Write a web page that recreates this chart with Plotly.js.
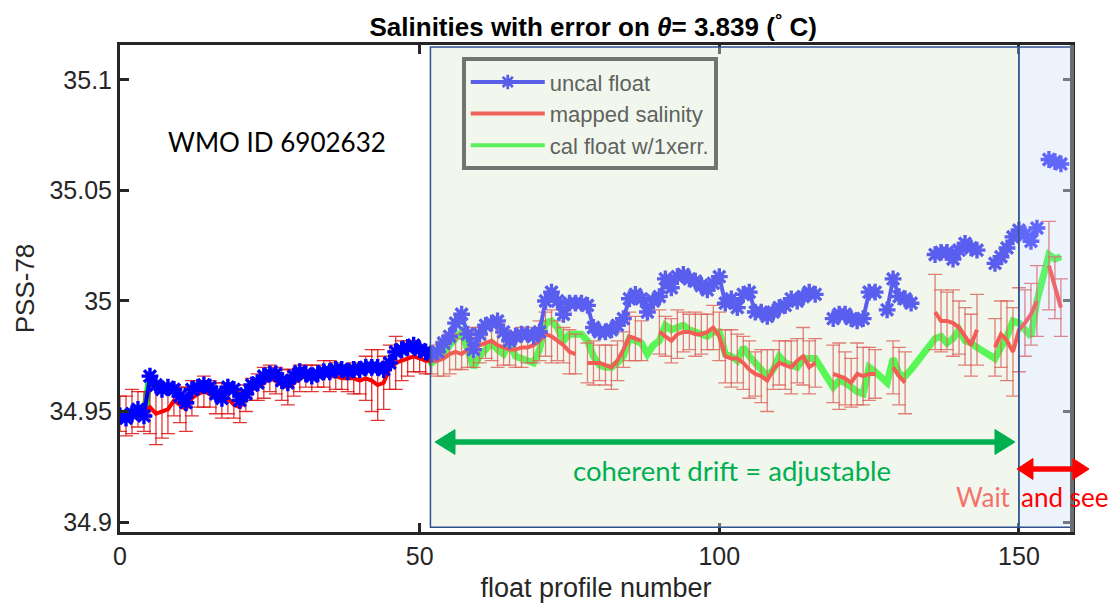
<!DOCTYPE html>
<html>
<head>
<meta charset="utf-8">
<script src="https://cdn.plot.ly/plotly-3.0.1.min.js"></script>
<style>
html,body{margin:0;padding:0;background:#fff;}
#chart{width:1115px;height:608px;}
</style>
</head>
<body>
<div id="chart"></div>
<script>
// ---------------- data ----------------
const profiles = [
  0,1,2,3,4,5,6,7,8,9,10,11,12,13,14,15,16,17,18,19,
  20,21,22,23,24,25,26,27,28,29,30,31,32,33,34,35,36,37,38,39,
  40,41,42,43,44,45,46,47,48,49,50,51,52,53,54,55,56,57,58,59,
  60,61,62,63,64,65,66,67,68,69,70,71,72,73,74,75,76,77,78,79,
  80,81,82,83,84,85,86,87,88,89,90,91,92,93,94,95,96,97,98,99,
  100,101,102,103,104,105,106,107,108,109,110,111,112,113,114,115,116,117,118,119,
  120,121,122,123,124,125,126,127,128,129,130,131,132,133,134,135,136,137,138,139,
  140,141,142,143,144,145,146,147,148,149,150,151,152,153,154,155,156,157
];

const uncalFloat = [
  34.948,34.947,34.949,34.951,34.948,34.966,34.962,34.960,34.961,34.960,
  34.957,34.954,34.960,34.961,34.962,34.961,34.958,34.956,34.961,34.960,
  34.955,34.958,34.962,34.963,34.966,34.967,34.967,34.964,34.963,34.966,
  34.968,34.967,34.966,34.967,34.968,34.968,34.969,34.969,34.968,34.969,
  34.969,34.970,34.970,34.970,34.969,34.972,34.977,34.978,34.979,34.980,
  34.978,34.977,34.976,34.977,34.981,34.984,34.990,34.994,34.985,34.978,
  34.985,34.989,34.990,34.991,34.986,34.982,34.984,34.985,34.985,34.984,
  34.986,35.000,35.004,35.000,34.994,34.999,34.999,34.999,34.998,34.988,
  34.986,34.986,34.987,34.989,34.992,35.001,35.003,35.001,34.995,35.000,
  35.002,35.010,35.006,35.011,35.012,35.010,35.009,35.007,35.005,35.008,
  35.011,34.999,35.001,34.997,35.003,35.004,34.995,34.995,34.993,34.995,
  34.997,34.998,35.001,35.000,35.002,35.004,35.003,null,null,34.992,
  34.994,34.994,34.992,34.991,34.992,35.004,35.004,null,34.996,35.010,
  35.002,35.001,34.999,null,null,null,35.021,35.022,35.022,35.019,
  35.023,35.026,35.024,35.023,null,null,35.017,35.020,35.024,35.029,
  35.032,35.030,35.027,35.033,null,35.064,35.063,35.062
];

const mappedSalinity = [
  34.949,34.948,34.950,34.951,34.950,34.952,34.949,34.950,34.951,34.955,
  34.953,34.951,34.956,34.958,34.959,34.958,34.956,34.955,34.956,34.953,
  34.952,34.956,34.960,34.961,34.963,34.965,34.964,34.962,34.961,34.963,
  34.965,34.966,34.965,34.966,34.967,34.966,34.966,34.965,34.965,34.965,
  34.964,34.965,34.964,34.962,34.963,34.970,34.972,34.973,34.974,34.975,
  34.974,34.973,34.973,34.973,34.974,34.976,34.977,34.976,34.978,34.979,
  34.980,34.981,34.982,34.980,34.979,34.978,34.978,34.979,34.979,34.980,
  34.982,34.985,34.984,34.982,34.980,34.977,34.976,null,34.972,34.972,
  34.972,34.971,34.970,34.973,34.978,34.984,34.983,34.982,null,null,
  34.986,34.984,34.982,34.985,34.986,34.986,34.985,34.985,34.986,34.988,
  34.984,34.975,34.974,34.974,34.972,34.969,34.967,34.966,34.964,34.969,
  34.972,34.971,34.970,34.973,34.975,34.970,34.972,null,null,34.967,
  34.966,34.965,34.963,34.967,34.966,34.967,34.967,null,null,34.970,
  34.966,34.963,null,null,null,null,34.995,34.991,34.991,34.990,
  34.988,34.984,34.980,34.987,null,null,34.979,34.985,34.982,34.977,
  34.987,34.990,34.994,35.000,null,35.016,35.006,34.997
];

const mappedError = [
  0.008,0.009,0.010,0.008,0.009,0.012,0.014,0.012,0.011,0.007,
  0.008,0.010,0.008,0.006,0.007,0.006,0.007,0.008,0.007,0.006,
  0.007,0.006,0.005,0.006,0.007,0.006,0.006,0.007,0.008,0.006,
  0.006,0.005,0.006,0.005,0.006,0.007,0.006,0.005,0.006,0.007,
  0.006,0.010,0.014,0.016,0.012,0.010,0.012,0.009,0.008,0.007,
  0.006,0.006,0.006,0.007,0.008,0.009,0.008,0.007,0.008,0.009,
  0.008,0.007,0.009,0.010,0.008,0.007,0.008,0.009,0.007,0.008,
  0.009,0.010,0.012,0.009,0.008,0.010,0.009,0.009,0.009,0.010,
  0.008,0.009,0.010,0.009,0.008,0.011,0.010,0.009,0.008,0.008,
  0.010,0.009,0.010,0.011,0.009,0.008,0.010,0.009,0.008,0.010,
  0.011,0.012,0.013,0.011,0.012,0.013,0.010,0.012,0.014,0.009,
  0.010,0.011,0.012,0.010,0.013,0.012,0.011,0.010,0.010,0.013,
  0.015,0.012,0.011,0.014,0.013,0.012,0.011,0.010,0.010,0.012,
  0.013,0.014,0.012,0.012,0.012,0.013,0.017,0.014,0.013,0.015,
  0.012,0.013,0.014,0.016,0.012,0.012,0.013,0.015,0.018,0.020,
  0.019,0.015,0.014,0.016,0.012,0.020,0.014,0.013
];

// calibrated float: identical to uncal before the drift window, adjusted afterwards
const calFloat = uncalFloat.slice(0, 52).concat([
  34.972,34.974,34.976,34.980,34.983,34.986,34.978,34.970,
  34.975,34.978,34.981,34.978,34.976,34.981,34.975,34.974,34.973,34.972,
  34.978,34.990,34.991,34.988,34.982,34.985,34.985,34.985,34.982,34.975,
  34.971,34.970,34.970,34.972,34.975,34.983,34.982,34.981,34.976,34.980,
  34.982,34.989,34.987,34.988,34.989,34.987,34.986,34.985,34.984,34.986,
  34.986,34.976,34.975,34.973,34.979,34.975,34.972,34.970,34.966,34.969,
  34.975,34.972,34.971,34.970,34.974,34.974,34.974,null,null,34.961,
  34.964,34.963,34.961,34.959,34.958,34.970,34.968,null,34.963,34.974,
  34.967,34.966,34.969,null,null,null,34.983,34.984,34.981,34.983,
  34.987,34.982,34.981,34.979,null,null,34.974,34.979,34.984,34.991,
  34.990,34.987,34.984,35.000,null,35.021,35.019,35.020
]);

const seriesNames = ['uncal float', 'mapped salinity', 'cal float w/1xerr.'];
const xTicks = [0, 50, 100, 150];
const yTicks = [34.9, 34.95, 35, 35.05, 35.1];
const yTickText = ['34.9', '34.95', '35', '35.05', '35.1'];

// ---------------- styling ----------------
const AX_FONT = 'Liberation Sans, Arial, sans-serif';
const CAL_FONT = 'Lato, Open Sans, sans-serif';
const driftStart = 51.8, driftEnd = 150, waitEnd = 158.85;

const traces = [
  { // cal float (bottom)
    x: profiles, y: calFloat, type: 'scatter', mode: 'lines', connectgaps: true,
    line: {color: '#00ff00', width: 7}, showlegend: false, hoverinfo: 'skip'
  },
  { // mapped salinity with error bars
    x: profiles, y: mappedSalinity, type: 'scatter', mode: 'lines',
    line: {color: '#ff0000', width: 4}, showlegend: false, hoverinfo: 'skip',
    error_y: {type: 'data', array: mappedError, visible: true, color: 'rgba(220,20,20,0.85)', thickness: 1.3, width: 7}
  },
  { // uncal float (top)
    x: profiles, y: uncalFloat, type: 'scatter', mode: 'lines+markers',
    line: {color: '#0000ff', width: 4},
    marker: {symbol: 'asterisk-open', size: 14, color: '#0000ff', line: {color: '#0000ff', width: 3.4}},
    showlegend: false, hoverinfo: 'skip'
  },
  // legend entries (tinted like the overlaid region)
  { x: [null], y: [null], type: 'scatter', mode: 'lines+markers', name: seriesNames[0],
    line: {color: '#595ee8', width: 4},
    marker: {symbol: 'asterisk-open', size: 12, color: '#595ee8', line: {color: '#595ee8', width: 2.8}} },
  { x: [null], y: [null], type: 'scatter', mode: 'lines', name: seriesNames[1],
    line: {color: '#ef635a', width: 4} },
  { x: [null], y: [null], type: 'scatter', mode: 'lines', name: seriesNames[2],
    line: {color: '#5cf05a', width: 4} }
];

// double-headed arrow drawn as paper-space shapes
function arrowShapes(xTipL, xBaseL, xBaseR, xTipR, yc, halfH, color, w) {
  return [
    { type: 'line', xref: 'paper', yref: 'paper', x0: xBaseL, x1: xBaseR, y0: yc, y1: yc,
      line: {color: color, width: w}, layer: 'above' },
    { type: 'path', xref: 'paper', yref: 'paper', layer: 'above', fillcolor: color, line: {color: color, width: 1},
      path: `M ${xTipL} ${yc} L ${xBaseL} ${yc + halfH} L ${xBaseL} ${yc - halfH} Z` },
    { type: 'path', xref: 'paper', yref: 'paper', layer: 'above', fillcolor: color, line: {color: color, width: 1},
      path: `M ${xTipR} ${yc} L ${xBaseR} ${yc + halfH} L ${xBaseR} ${yc - halfH} Z` }
  ];
}

const layout = {
  width: 1115, height: 608,
  margin: {l: 120, r: 43, t: 45, b: 76},
  paper_bgcolor: '#ffffff', plot_bgcolor: '#ffffff',
  title: {
    text: 'Salinities with error on <i>θ</i>= 3.839 (<sup>°</sup> C)',
    font: {family: 'Liberation Sans, Arial', size: 26, color: '#000', weight: 'bold'},
    x: 0.532, xanchor: 'center', y: 0.955, yanchor: 'middle'
  },
  xaxis: {
    range: [0, waitEnd], tickvals: xTicks, ticktext: xTicks.map(String),
    ticks: 'inside', ticklen: 9, tickwidth: 3, tickcolor: '#262626',
    showline: true, linecolor: '#262626', linewidth: 3, mirror: 'ticks',
    showgrid: false, zeroline: false,
    tickfont: {family: AX_FONT, size: 25, color: '#262626'},
    title: {text: 'float profile number', font: {family: AX_FONT, size: 27, color: '#262626'}, standoff: 10}
  },
  yaxis: {
    range: [34.8955, 35.1158], tickvals: yTicks, ticktext: yTickText,
    ticks: 'inside', ticklen: 9, tickwidth: 3, tickcolor: '#262626',
    showline: true, linecolor: '#262626', linewidth: 3, mirror: 'ticks',
    showgrid: false, zeroline: false,
    tickfont: {family: AX_FONT, size: 25, color: '#262626'},
    title: {text: 'PSS-78', font: {family: AX_FONT, size: 26, color: '#262626'}, standoff: 8}
  },
  legend: {
    x: 0.359, y: 0.975, xanchor: 'left', yanchor: 'top',
    bgcolor: '#f2f7ee', bordercolor: '#6f7570', borderwidth: 4,
    font: {family: AX_FONT, size: 22, color: '#5f635f'},
    itemwidth: 74
  },
  shapes: [
    { type: 'rect', xref: 'x', yref: 'paper', x0: driftStart, x1: driftEnd, y0: 0.01, y1: 0.996,
      fillcolor: 'rgba(222,235,212,0.4)', line: {color: '#2f528f', width: 1.5}, layer: 'above' },
    { type: 'rect', xref: 'x', yref: 'paper', x0: driftEnd, x1: waitEnd, y0: 0.01, y1: 0.996,
      fillcolor: 'rgba(215,228,245,0.45)', line: {color: '#2f528f', width: 1.5}, layer: 'above' },
    { type: 'line', xref: 'paper', yref: 'paper', x0: 1.0, x1: 1.0, y0: 0, y1: 1,
      line: {color: '#6b6f75', width: 4}, layer: 'above' }
  ]
  .concat(arrowShapes(0.3309, 0.3519, 0.9191, 0.9401, 0.1848, 0.0256, '#00b050', 5.5))
  .concat(arrowShapes(0.9422, 0.9590, 1.0010, 1.0179, 0.1294, 0.0215, '#ff0000', 5.5)),
  annotations: [
    { xref: 'paper', yref: 'paper', x: 0.165, y: 0.801, xanchor: 'center', yanchor: 'middle',
      text: 'WMO ID 6902632', showarrow: false,
      font: {family: CAL_FONT, size: 26, color: '#000'} },
    { xref: 'paper', yref: 'paper', x: 0.643, y: 0.127, xanchor: 'center', yanchor: 'middle',
      text: 'coherent drift = adjustable', showarrow: false,
      font: {family: CAL_FONT, size: 27.5, color: '#00b050'} },
    { xref: 'paper', yref: 'paper', x: 0.938, y: 0.0719, xanchor: 'right', yanchor: 'middle',
      text: 'Wait', showarrow: false,
      font: {family: CAL_FONT, size: 26, color: '#f4716a'} },
    { xref: 'paper', yref: 'paper', x: 0.944, y: 0.0719, xanchor: 'left', yanchor: 'middle',
      text: 'and see', showarrow: false,
      font: {family: CAL_FONT, size: 26, color: '#ff0000'} }
  ]
};

Plotly.newPlot('chart', traces, layout, {displayModeBar: false, staticPlot: true});
</script>
</body>
</html>
